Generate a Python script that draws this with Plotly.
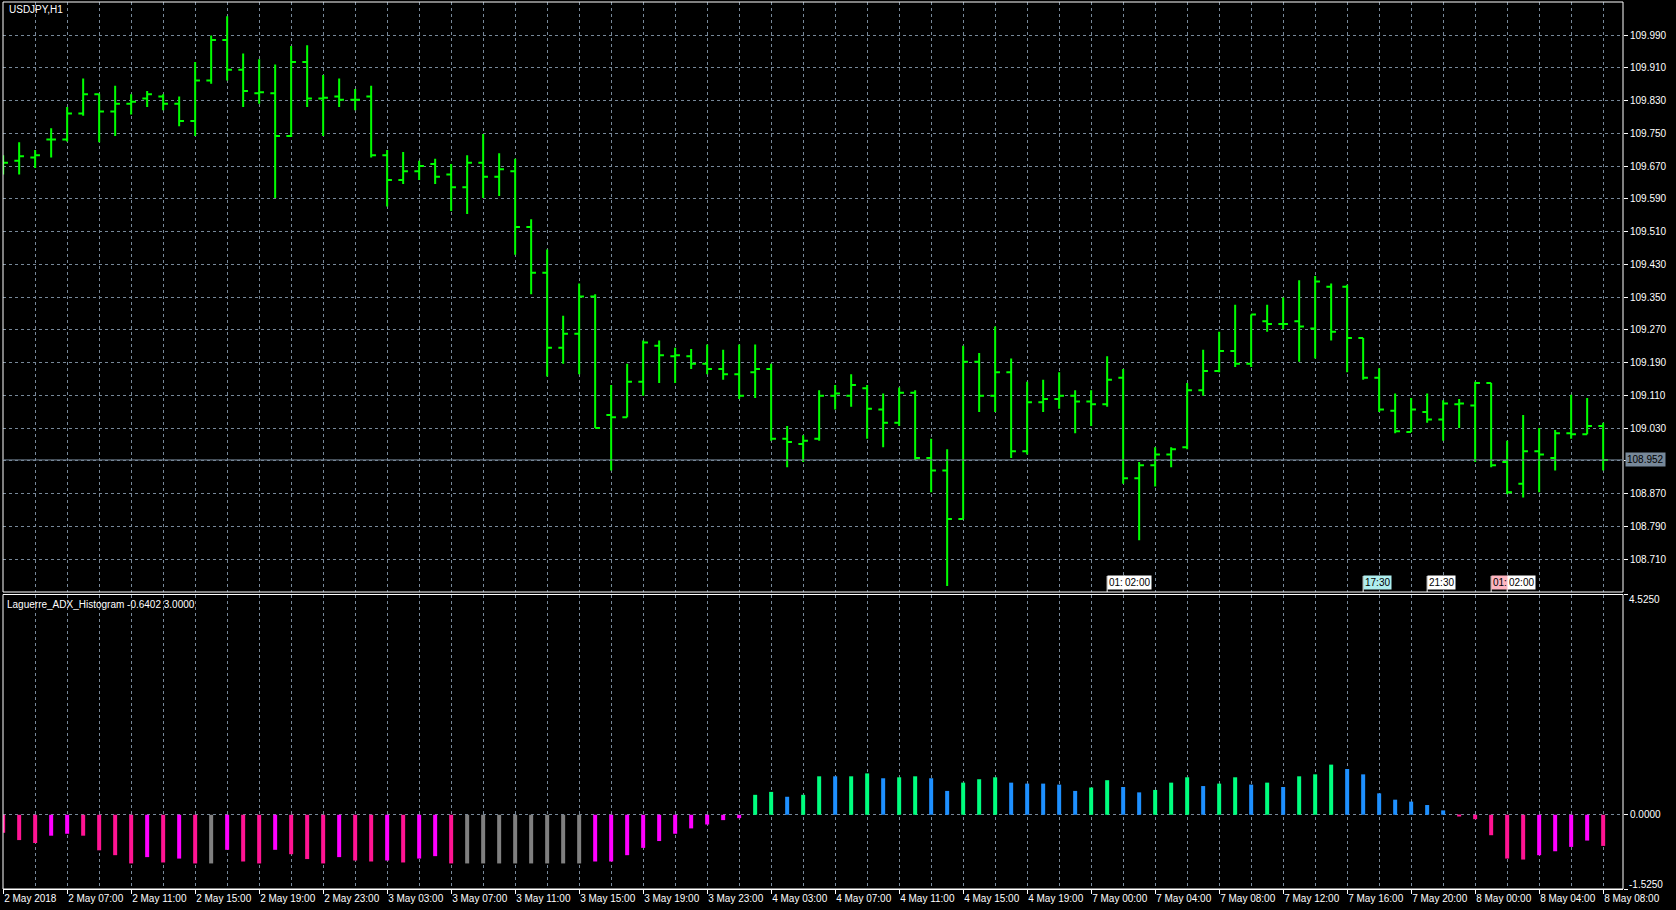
import plotly.graph_objects as go

# ---------------- data ----------------
bar_index = list(range(101))

open_ = [109.678, 109.683, 109.691, 109.735, 109.735, 109.798, 109.845, 109.803, 109.822, 109.835,
         109.840, 109.822, 109.780, 109.879, 109.978, 109.905, 109.848, 109.848, 109.743, 109.924,
         109.835, 109.840, 109.832, 109.840, 109.696, 109.636, 109.657, 109.675, 109.649, 109.618,
         109.678, 109.644, 109.657, 109.521, 109.409, 109.226, 109.260, 109.351, 109.062, 109.056,
         109.143, 109.231, 109.205, 109.205, 109.187, 109.174, 109.161, 109.166, 109.174, 109.004,
         108.991, 109.004, 109.109, 109.109, 109.127, 109.075, 109.043, 109.116, 108.957, 108.926,
         108.808, 109.192, 109.109, 109.166, 108.973, 109.093, 109.101, 109.109, 109.095, 109.088,
         109.153, 108.907, 108.939, 108.965, 108.983, 109.122, 109.169, 109.218, 109.187, 109.291,
         109.284, 109.291, 109.273, 109.375, 109.375, 109.250, 109.153, 109.072, 109.020, 109.069,
         109.051, 109.088, 109.085, 109.140, 108.947, 108.894, 108.973, 108.957, 109.017, 109.015,
         109.035]
high = [109.696, 109.728, 109.709, 109.762, 109.814, 109.884, 109.845, 109.866, 109.845, 109.853,
        109.845, 109.840, 109.924, 109.989, 110.036, 109.945, 109.931, 109.918, 109.963, 109.965,
        109.892, 109.884, 109.858, 109.866, 109.709, 109.704, 109.683, 109.688, 109.675, 109.696,
        109.748, 109.701, 109.688, 109.540, 109.466, 109.304, 109.383, 109.357, 109.135, 109.187,
        109.244, 109.244, 109.226, 109.223, 109.234, 109.221, 109.234, 109.234, 109.187, 109.035,
        109.012, 109.122, 109.135, 109.161, 109.135, 109.114, 109.129, 109.122, 109.004, 108.978,
        109.231, 109.213, 109.278, 109.200, 109.143, 109.148, 109.166, 109.122, 109.122, 109.205,
        109.174, 108.947, 108.983, 108.983, 109.140, 109.221, 109.265, 109.331, 109.307, 109.331,
        109.349, 109.391, 109.401, 109.383, 109.380, 109.250, 109.176, 109.114, 109.103, 109.114,
        109.098, 109.101, 109.143, 109.140, 108.999, 109.062, 109.030, 109.025, 109.111, 109.103,
        109.043]
low = [109.649, 109.649, 109.665, 109.691, 109.730, 109.793, 109.728, 109.743, 109.796, 109.814,
       109.806, 109.767, 109.743, 109.871, 109.879, 109.814, 109.822, 109.592, 109.741, 109.814,
       109.743, 109.814, 109.806, 109.691, 109.571, 109.626, 109.636, 109.626, 109.560, 109.553,
       109.592, 109.597, 109.453, 109.357, 109.156, 109.187, 109.161, 109.030, 108.926, 109.056,
       109.109, 109.140, 109.140, 109.174, 109.161, 109.148, 109.101, 109.103, 108.999, 108.934,
       108.947, 108.999, 109.075, 109.082, 109.004, 108.983, 109.035, 108.952, 108.873, 108.644,
       108.808, 109.069, 109.069, 108.957, 108.965, 109.069, 109.077, 109.017, 109.035, 109.082,
       108.894, 108.756, 108.887, 108.934, 108.978, 109.109, 109.166, 109.179, 109.179, 109.265,
       109.271, 109.192, 109.200, 109.244, 109.166, 109.148, 109.069, 109.017, 109.020, 109.043,
       108.999, 109.030, 108.947, 108.934, 108.868, 108.860, 108.873, 108.926, 109.004, 109.015,
       108.926]
close = [109.678, 109.694, 109.696, 109.735, 109.798, 109.845, 109.803, 109.822, 109.827, 109.845,
         109.822, 109.780, 109.879, 109.978, 109.905, 109.853, 109.850, 109.743, 109.924, 109.835,
         109.837, 109.832, 109.832, 109.696, 109.636, 109.657, 109.670, 109.644, 109.618, 109.678,
         109.644, 109.662, 109.521, 109.409, 109.226, 109.260, 109.351, 109.030, 109.056, 109.143,
         109.239, 109.208, 109.208, 109.187, 109.174, 109.161, 109.109, 109.174, 109.004, 108.996,
         108.999, 109.109, 109.114, 109.135, 109.077, 109.043, 109.116, 108.957, 108.926, 108.808,
         109.192, 109.109, 109.166, 108.973, 109.093, 109.101, 109.109, 109.095, 109.088, 109.148,
         108.907, 108.939, 108.965, 108.978, 109.122, 109.169, 109.218, 109.187, 109.307, 109.284,
         109.284, 109.278, 109.388, 109.265, 109.250, 109.153, 109.075, 109.022, 109.075, 109.051,
         109.090, 109.090, 109.140, 108.939, 108.873, 108.973, 108.965, 109.017, 109.015, 109.035,
         108.952]

hist_values = [-0.37, -0.52, -0.58, -0.43, -0.39, -0.43, -0.73, -0.83, -1.00, -0.87,
               -0.98, -0.90, -1.00, -1.00, -0.72, -0.96, -1.00, -0.72, -0.81, -0.91,
               -1.00, -0.87, -0.94, -0.96, -0.94, -0.98, -0.90, -0.85, -1.00, -1.00,
               -1.00, -1.00, -1.00, -1.00, -1.00, -1.00, -1.00, -0.96, -0.96, -0.83,
               -0.68, -0.54, -0.39, -0.28, -0.20, -0.11, -0.07, 0.41, 0.47, 0.37,
               0.41, 0.79, 0.79, 0.79, 0.85, 0.75, 0.77, 0.79, 0.75, 0.49,
               0.66, 0.73, 0.77, 0.66, 0.64, 0.64, 0.62, 0.49, 0.56, 0.71,
               0.57, 0.46, 0.51, 0.66, 0.77, 0.59, 0.64, 0.77, 0.62, 0.66,
               0.57, 0.79, 0.83, 1.03, 0.94, 0.83, 0.44, 0.31, 0.27, 0.20,
               0.09, -0.03, -0.09, -0.42, -0.90, -0.92, -0.83, -0.75, -0.66, -0.53,
               -0.64]
# state of each histogram bar: dp=falling strong, mg=falling weak, gr=flat, sg=rising strong, db=rising weak
hist_state = ["dp", "dp", "dp", "mg", "mg", "dp", "dp", "dp", "dp", "mg",
              "dp", "mg", "dp", "gr", "mg", "dp", "dp", "mg", "dp", "dp",
              "dp", "mg", "dp", "dp", "mg", "dp", "mg", "mg", "dp", "gr",
              "gr", "gr", "gr", "gr", "gr", "gr", "gr", "mg", "mg", "mg",
              "mg", "mg", "mg", "mg", "mg", "mg", "mg", "sg", "sg", "db",
              "sg", "sg", "db", "sg", "sg", "db", "sg", "sg", "db", "db",
              "sg", "sg", "sg", "db", "db", "db", "db", "db", "sg", "sg",
              "db", "db", "sg", "sg", "sg", "db", "sg", "sg", "db", "sg",
              "db", "sg", "sg", "sg", "db", "db", "db", "db", "db", "db",
              "db", "dp", "dp", "dp", "dp", "dp", "mg", "mg", "mg", "mg",
              "dp"]

x_tick_bars = [0, 4, 8, 12, 16, 20, 24, 28, 32, 36, 40, 44, 48, 52, 56, 60, 64, 68, 72, 76, 80, 84, 88, 92, 96, 100]
x_tick_labels = ["2 May 2018", "2 May 07:00", "2 May 11:00", "2 May 15:00", "2 May 19:00", "2 May 23:00",
                 "3 May 03:00", "3 May 07:00", "3 May 11:00", "3 May 15:00", "3 May 19:00", "3 May 23:00",
                 "4 May 03:00", "4 May 07:00", "4 May 11:00", "4 May 15:00", "4 May 19:00",
                 "7 May 00:00", "7 May 04:00", "7 May 08:00", "7 May 12:00", "7 May 16:00", "7 May 20:00",
                 "8 May 00:00", "8 May 04:00", "8 May 08:00"]

price_ticks = [108.710, 108.790, 108.870, 108.950, 109.030, 109.110, 109.190, 109.270, 109.350,
               109.430, 109.510, 109.590, 109.670, 109.750, 109.830, 109.910, 109.990]
price_tick_labels = ["108.710", "108.790", "108.870", "", "109.030", "109.110", "109.190", "109.270",
                     "109.350", "109.430", "109.510", "109.590", "109.670", "109.750", "109.830",
                     "109.910", "109.990"]
ind_ticks = [-1.525, 0.0, 4.525]
ind_tick_labels = ["-1.5250", "0.0000", "4.5250"]

last_price = 108.952
symbol_label = "USDJPY,H1"
indicator_label = "Laguerre_ADX_Histogram -0.6402 3.0000"

event_bars = [69, 70, 85, 89, 93, 94]
event_texts = ["01:", "02:00", "17:30", "21:30", "01:", "02:00"]
event_kind = ["plain", "plain", "cyan", "plain", "pink", "plain"]

# ---------------- styling ----------------
W, H = 1676, 910
ML, MR, MT, MB = 3, 53, 2, 21
PA_BOT = H - MB
PA_H = H - MT - MB


def py(y_px):
    return (PA_BOT - y_px) / PA_H


FONT = "Liberation Sans"
FS = 10
GRID = "#778899"
state_colors = {"dp": "#FF1493", "mg": "#FF00FF", "gr": "#808080", "sg": "#00FF7F", "db": "#1E90FF"}
event_fill = {"plain": "#FFFFFF", "cyan": "#AFEEEE", "pink": "#FFB6C1"}

main_dom = [py(592), 1.0]
ind_dom = [0.0, py(594.5)]

fig = go.Figure()

fig.add_trace(go.Ohlc(
    x=bar_index, open=open_, high=high, low=low, close=close,
    increasing=dict(line=dict(color="#00FF00", width=2)),
    decreasing=dict(line=dict(color="#00FF00", width=2)),
    tickwidth=0.3, xaxis="x", yaxis="y", hoverinfo="skip", showlegend=False,
))

fig.add_trace(go.Bar(
    x=bar_index, y=hist_values, width=0.25,
    marker=dict(color=[state_colors[s] for s in hist_state], line=dict(width=0)),
    xaxis="x", yaxis="y2", hoverinfo="skip", showlegend=False,
))

grid_common = dict(showgrid=True, gridcolor=GRID, gridwidth=1, griddash="3px,3px", zeroline=False)
tfont = dict(family=FONT, size=FS, color="#FFFFFF")

fig.update_layout(
    width=W, height=H,
    margin=dict(l=ML, r=MR, t=MT, b=MB, pad=0, autoexpand=False),
    paper_bgcolor="#000000", plot_bgcolor="#000000",
    font=tfont,
    showlegend=False,
    xaxis=dict(
        range=[-0.01, 101.24], anchor="y2", automargin=False,
        tickmode="array", tickvals=x_tick_bars, ticktext=x_tick_labels, tickangle=0,
        ticks="outside", ticklen=4, tickcolor="#FFFFFF", tickwidth=1,
        ticklabelposition="outside right", tickfont=tfont,
        minor=dict(tick0=0, dtick=2, showgrid=True, gridcolor=GRID, gridwidth=1, griddash="3px,3px", ticks=""),
        showline=True, linecolor="#FFFFFF", linewidth=1,
        rangeslider=dict(visible=False),
        **grid_common,
    ),
    yaxis=dict(
        domain=main_dom, range=[108.6294, 110.0706], side="right", anchor="x", automargin=False,
        tickmode="array", tickvals=price_ticks, ticktext=price_tick_labels,
        ticks="outside", ticklen=4, tickcolor="#FFFFFF", tickfont=tfont,
        showline=False, **grid_common,
    ),
    yaxis2=dict(
        domain=ind_dom, range=[-1.525, 4.525], side="right", anchor="x", automargin=False,
        tickmode="array", tickvals=ind_ticks, ticktext=["", ind_tick_labels[1], ""],
        ticks="outside", ticklen=4, tickcolor="#FFFFFF", tickfont=tfont,
        showline=False, **grid_common,
    ),
)

shapes = [
    dict(type="rect", xref="paper", yref="paper", x0=0, x1=1, y0=main_dom[0], y1=main_dom[1],
         line=dict(color="#FFFFFF", width=1), fillcolor="rgba(0,0,0,0)", layer="above"),
    dict(type="rect", xref="paper", yref="paper", x0=0, x1=1, y0=ind_dom[0], y1=ind_dom[1],
         line=dict(color="#FFFFFF", width=1), fillcolor="rgba(0,0,0,0)", layer="above"),
    dict(type="line", xref="paper", yref="y", x0=0, x1=1, y0=last_price, y1=last_price,
         line=dict(color=GRID, width=1), layer="above"),
]
annotations = [
    dict(xref="paper", yref="paper", x=0.0025, y=py(9.5), xanchor="left", yanchor="middle",
         text=symbol_label, showarrow=False, font=tfont),
    dict(xref="paper", yref="paper", x=0.0015, y=py(604), xanchor="left", yanchor="middle",
         text=indicator_label, showarrow=False, font=tfont),
    dict(xref="paper", yref="y", x=1, xshift=2, y=last_price, xanchor="left", yanchor="middle",
         text=f"{last_price:.3f}", showarrow=False, bgcolor=GRID, borderpad=1,
         font=dict(family=FONT, size=FS, color="#000000")),
    dict(xref="paper", yref="y2", x=1, xshift=4, y=ind_ticks[2], yshift=-5, xanchor="left", yanchor="middle",
         text=ind_tick_labels[2], showarrow=False, font=tfont),
    dict(xref="paper", yref="y2", x=1, xshift=4, y=ind_ticks[0], yshift=5, xanchor="left", yanchor="middle",
         text=ind_tick_labels[0], showarrow=False, font=tfont),
]
for b, t, k in zip(event_bars, event_texts, event_kind):
    shapes.append(dict(type="line", xref="x", yref="paper", x0=b, x1=b, y0=py(592), y1=py(576),
                       line=dict(color="#FFFFFF", width=1), layer="above"))
    annotations.append(dict(xref="x", yref="paper", x=b, y=py(582), xanchor="left", yanchor="middle",
                            text=t, showarrow=False, bgcolor=event_fill[k], borderpad=1,
                            font=dict(family=FONT, size=FS, color="#000000")))

fig.update_layout(shapes=shapes, annotations=annotations)

fig.write_html("out.html", config={"displayModeBar": False},
               post_script="document.body.style.margin='0px';")
